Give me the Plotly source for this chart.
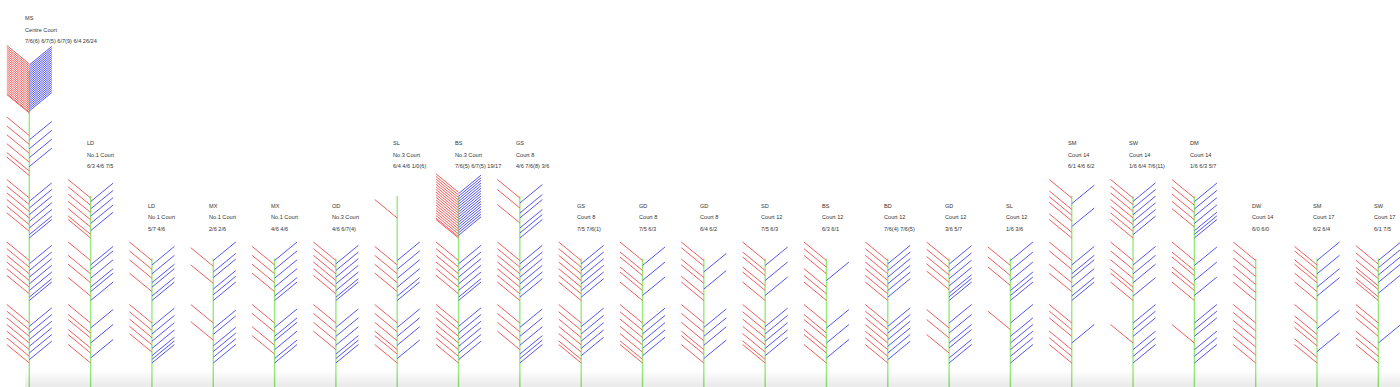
import plotly.graph_objects as go

# ---------------- data ----------------
events = ["MS", "LD", "LD", "MX", "MX", "OD", "SL", "BS", "GS", "GS", "GD", "GD",
          "SD", "BS", "BD", "GD", "SL", "SM", "SW", "DM", "DW", "SM", "SW"]
courts = ["Centre Court", "No.1 Court", "No.1 Court", "No.1 Court", "No.1 Court",
          "No.3 Court", "No.3 Court", "No.3 Court", "Court 8", "Court 8", "Court 8",
          "Court 8", "Court 12", "Court 12", "Court 12", "Court 12", "Court 12",
          "Court 14", "Court 14", "Court 14", "Court 14", "Court 17", "Court 17"]
scores = ["7/6(6) 6/7(5) 6/7(9) 6/4 26/24", "6/3 4/6 7/5", "5/7 4/6", "2/6 2/6",
          "4/6 4/6", "4/6 6/7(4)", "6/4 4/6 1/0(6)", "7/6(5) 6/7(5) 19/17",
          "4/6 7/6(8) 3/6", "7/5 7/6(1)", "7/5 6/3", "6/4 6/2", "7/5 6/3", "6/3 6/1",
          "7/6(4) 7/6(5)", "3/6 5/7", "1/6 3/6", "6/1 4/6 6/2", "1/6 6/4 7/6(11)",
          "1/6 6/3 5/7", "6/0 6/0", "6/2 6/4", "6/1 7/5"]
# game winners per set, first set first, games in playing order
# R = first-named side (red, left branch), B = second side (blue, right branch)
games = [
    ["RBRBRBRBRBRBR", "RBRBRBRBRBRBB", "RBRBRBRBRBRBB", "RBRBRBRBRR",
     "RBRBRBRBRBRBRBRBRBRBRBRBRBRBRBRBRBRBRBRBRBRBRBRBRR"],
    ["RBRRBRRBR", "RBBRBRBBRB", "RBRBRBRBRBRR"],
    ["RBRBRBRBRBBB", "RBRBRBBRBB"],
    ["RBBRBBBB", "BRBBRBBB"],
    ["RBRBBRBRBB", "BRBRBRBRBB"],
    ["RBRBRBRBBB", "RBRBRBRBRBRBB"],
    ["RBRBRBRRBR", "BRBRBRBRBB", "R"],
    ["RBRBRBRBRBRBR", "RBRBRBRBRBRBB", "RBRBRBRBRBRBRBRBRBRBRBRBRBRBRBRBRBRR"],
    ["RBRBRBRBBB", "RBRBRBRBRBRBR", "RBRBBRBBB"],
    ["RBRBRBRBRBRR", "RBRBRBRBRBRBR"],
    ["RBRBRBRBRBRR", "RBRRBRRBR"],
    ["RBRBRBRRBR", "RRBRRBRR"],
    ["RBRBRBRBRBRR", "RBRRBRRBR"],
    ["RBRRBRRBR", "RRRBRRR"],
    ["RBRBRBRBRBRBR", "RBRBRBRBRBRBR"],
    ["BRBRBBRBB", "RBRBRBRBRBBB"],
    ["BRBBBBB", "BRBRBRBBB"],
    ["RRRBRRR", "RBRBBRBRBB", "RBRRRBRR"],
    ["BBBRBBB", "RBRBRBRRBR", "RBRBRBRBRBRBR"],
    ["BBBRBBB", "RBRRBRRBR", "RBRBRBRBRBBB"],
    ["RRRRRR", "RRRRRR"],
    ["RBRRRBRR", "BRRBRRBRBR"],
    ["RRRBRRR", "BRBRBRBRRBRR"],
]

# ---------------- geometry (pixels) ----------------
W, H = 1400, 387
X0, DX = 29.3, 61.32          # stem x of first match, spacing between matches
Y0, SETH = 363.0, 62.5        # bottom attach of first set, height of a set band
BX, BY = 22.5, 18.5           # branch run / rise
STEM_BOTTOM = 395

red_x, red_y, blue_x, blue_y, st_x, st_y = [], [], [], [], [], []
ann = []
for k, sets in enumerate(games):
    x = X0 + k * DX
    for s, seq in enumerate(sets):
        n = len(seq)
        yb = Y0 - s * SETH
        span = 40.0 if n <= 13 else 40.0 + (n - 13) * 0.245
        for i, w in enumerate(seq):
            # first game of a set at the top of its band, last game at the bottom
            if n == 1:
                y = yb - 20
            else:
                y = yb - span + i * span / (n - 1)
            if w == "R":
                red_x += [x, x - BX, None]
                red_y += [y, y - BY, None]
            else:
                blue_x += [x, x + BX, None]
                blue_y += [y, y - BY, None]
    ns = len(sets)
    top = Y0 - (ns - 1) * SETH - 42
    st_x += [x, x, None]
    st_y += [STEM_BOTTOM, top, None]
    ys = Y0 - (ns - 1) * SETH - 72
    for txt, yy in ((events[k], ys - 23), (courts[k], ys - 11.5), (scores[k], ys)):
        ann.append(dict(x=x - 6, y=yy, text=txt, showarrow=False, xanchor="left",
                        yanchor="middle", xref="x", yref="y",
                        font=dict(size=5.6, color="#333", family="Liberation Sans, Arial")))

fig = go.Figure()
fig.add_trace(go.Scatter(x=st_x, y=st_y, mode="lines",
                         line=dict(color="rgb(150,235,120)", width=1.4), hoverinfo="skip"))
fig.add_trace(go.Scatter(x=red_x, y=red_y, mode="lines",
                         line=dict(color="rgb(238,95,95)", width=1), hoverinfo="skip"))
fig.add_trace(go.Scatter(x=blue_x, y=blue_y, mode="lines",
                         line=dict(color="rgb(85,85,238)", width=1), hoverinfo="skip"))

shapes = []
for j in range(10):
    shapes.append(dict(type="rect", xref="x", yref="y", x0=25, x1=W, y0=371 + j * 1.5, y1=H,
                       fillcolor="rgba(0,0,0,0.008)", line=dict(width=0), layer="above"))

fig.update_layout(
    width=W, height=H, margin=dict(l=0, r=0, t=0, b=0),
    paper_bgcolor="white", plot_bgcolor="white", showlegend=False,
    xaxis=dict(range=[0, W], visible=False, fixedrange=True),
    yaxis=dict(range=[H, 0], visible=False, fixedrange=True),
    annotations=ann, shapes=shapes,
)
fig.write_html("out.html")
